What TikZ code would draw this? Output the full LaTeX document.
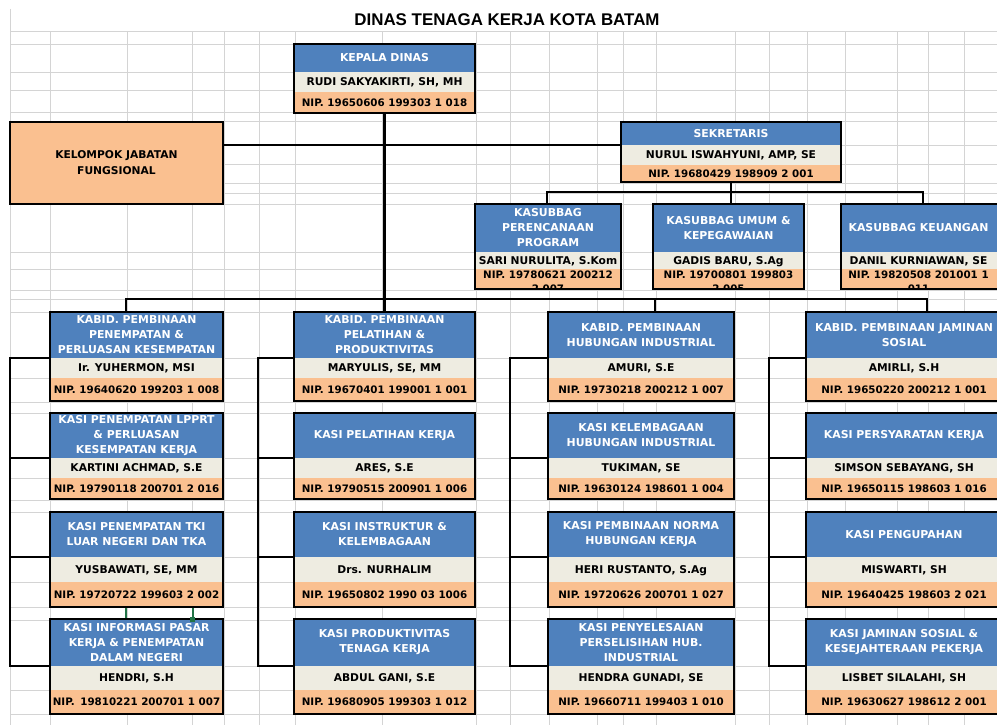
\documentclass[tikz,border=0pt]{standalone}
\usepackage{fontspec}
\newfontfamily\dvs{DejaVu Sans}
\newfontfamily\lib{Liberation Sans}
\usetikzlibrary{fit,calc}
\definecolor{hdrblue}{HTML}{4F81BD}
\definecolor{namebg}{HTML}{EEECE1}
\definecolor{nipbg}{HTML}{FAC090}
\definecolor{gridc}{HTML}{D4D4D4}
\definecolor{selg}{HTML}{217346}

\newcommand\obox[8]{%
  \fill[hdrblue] (#2,#4) rectangle (#3,#5);
  \fill[namebg] (#2,#5) rectangle (#3,#6);
  \fill[nipbg] (#2,#6) rectangle (#3,#7);
  \coordinate (#1-tl) at (#2,#4);
  \coordinate (#1-br) at (#3,#7);
  \coordinate (#1-tc) at ($(#8,#4)!.5!(#8,#5)$);
  \coordinate (#1-nc) at ($(#8,#5)!.5!(#8,#6)$);
  \coordinate (#1-pc) at ($(#8,#6)!.5!(#8,#7)$);
  \coordinate (#1-hl) at (#2,#5);
  \node[boxframe, fit=(#1-tl)(#1-br)] (#1) {};
}
\newcommand\otext[4]{%
  \node[ttl] (#1-title) at (#1-tc) {#2};
  \node[nmtxt] (#1-name) at (#1-nc) {#3};
  \node[niptxt] (#1-nip) at (#1-pc) {#4};
}
\newcommand\nipclip[6]{% name, x1, x2, y3, y4, text
  \begin{scope}
    \clip (#2+1.2,#4) rectangle (#3-1.2,#5-1.2);
    \node[niptwo] (#1-nip) at ($(#1-pc)+(0,2.5)$) {#6};
  \end{scope}
}

\begin{document}
\begin{tikzpicture}[x=1pt,y=-1pt,
  conn/.style={line width=2.1pt, black},
  boxframe/.style={draw=black, line width=2.4pt, inner sep=0pt},
  gridl/.style={gridc, line width=1pt},
  ttl/.style={font=\dvs\bfseries\fontsize{10.9}{15}\selectfont, text=white, align=center, inner sep=0pt},
  nmtxt/.style={font=\dvs\bfseries\fontsize{10.7}{12}\selectfont, inner sep=0pt, text depth=0pt},
  niptxt/.style={font=\dvs\bfseries\fontsize{10.3}{12}\selectfont, inner sep=0pt, text depth=0pt},
  niptwo/.style={font=\dvs\bfseries\fontsize{10.3}{14}\selectfont, inner sep=0pt, align=center},
]
\useasboundingbox (0,0) rectangle (997,725);
\clip (0,0) rectangle (997,725);
\fill[white] (0,0) rectangle (997,725);

% spreadsheet grid
\draw[gridl] (10,9) -- (10,725);
\foreach \gx in {50,127,192,224,259,295,382,476,510,549,597,623,656,735,769,807,845,897,928,964}
  \draw[gridl] (\gx,32) -- (\gx,725);
\foreach \gy in {32,45,73,91,113,122,145,164,183,193,204,252,269,290,299,312,358,378,402,413,458,478,500,512,557,582,607,620,666,690,714}
  \draw[gridl] (10,\gy) -- (997,\gy);

% title
\node[font=\lib\bfseries\fontsize{16.9}{20}\selectfont, inner sep=0pt] (title) at (507,20) {DINAS TENAGA KERJA KOTA BATAM};

% green cell selection (behind boxes)
\draw[selg, line width=1.5pt] (126,607) rectangle (193,619);

% boxes
\obox{kd}{294}{475}{44}{72}{92}{113}{384.5}
\otext{kd}{KEPALA DINAS}{RUDI SAKYAKIRTI, SH, MH}{NIP. 19650606 199303 1 018}

\obox{sek}{621}{841}{122}{145}{165}{182}{731}
\otext{sek}{SEKRETARIS}{NURUL ISWAHYUNI, AMP, SE}{NIP. 19680429 198909 2 001}

\coordinate (kjf-tl) at (10,122);
\coordinate (kjf-br) at (223,204);
\node[boxframe, fill=nipbg, fit=(kjf-tl)(kjf-br)] (kjf) {};
\node[font=\dvs\bfseries\fontsize{10.7}{16}\selectfont, inner sep=0pt, align=center] (kjf-text) at (kjf.center) {KELOMPOK JABATAN\\FUNGSIONAL};

\obox{ka}{475}{621}{204}{252}{269}{289}{548}
\otext{ka}{KASUBBAG\\PERENCANAAN\\PROGRAM}{SARI NURULITA, S.Kom}{}
\nipclip{ka}{475}{621}{269}{289}{NIP. 19780621 200212\\2 007}

\obox{kb}{653}{804}{204}{252}{269}{289}{728.5}
\otext{kb}{KASUBBAG UMUM \&\\KEPEGAWAIAN}{GADIS BARU, S.Ag}{}
\nipclip{kb}{653}{804}{269}{289}{NIP. 19700801 199803\\2 005}

\obox{kc}{841}{999}{204}{252}{269}{289}{918.5}
\otext{kc}{KASUBBAG KEUANGAN}{DANIL KURNIAWAN, SE}{}
\nipclip{kc}{841}{999}{269}{289}{NIP. 19820508 201001 1\\011}

% column 1
\obox{c1r1}{50}{223}{312}{358}{378}{401}{136.5}
\otext{c1r1}{KABID. PEMBINAAN\\PENEMPATAN \&\\PERLUASAN KESEMPATAN}{Ir. YUHERMON, MSI}{NIP. 19640620 199203 1 008}
\obox{c1r2}{50}{223}{413}{458}{478}{499}{136.5}
\otext{c1r2}{KASI PENEMPATAN LPPRT\\\& PERLUASAN\\KESEMPATAN KERJA}{KARTINI ACHMAD, S.E}{NIP. 19790118 200701 2 016}
\obox{c1r3}{50}{223}{512}{557}{582}{607}{136.5}
\otext{c1r3}{KASI PENEMPATAN TKI\\LUAR NEGERI DAN TKA}{YUSBAWATI, SE, MM}{NIP. 19720722 199603 2 002}
\obox{c1r4}{50}{223}{619}{666}{690}{714}{136.5}
\otext{c1r4}{KASI INFORMASI PASAR\\KERJA \& PENEMPATAN\\DALAM NEGERI}{HENDRI, S.H}{NIP.\hspace{5.5pt}19810221 200701 1 007}

% column 2
\obox{c2r1}{294}{475}{312}{358}{378}{401}{384.5}
\otext{c2r1}{KABID. PEMBINAAN\\PELATIHAN \&\\PRODUKTIVITAS}{MARYULIS, SE, MM}{NIP. 19670401 199001 1 001}
\obox{c2r2}{294}{475}{413}{458}{478}{499}{384.5}
\otext{c2r2}{KASI PELATIHAN KERJA}{ARES, S.E}{NIP. 19790515 200901 1 006}
\obox{c2r3}{294}{475}{512}{557}{582}{607}{384.5}
\otext{c2r3}{KASI INSTRUKTUR \&\\KELEMBAGAAN}{Drs. NURHALIM}{NIP. 19650802 1990 03 1006}
\obox{c2r4}{294}{475}{619}{666}{690}{714}{384.5}
\otext{c2r4}{KASI PRODUKTIVITAS\\TENAGA KERJA}{ABDUL GANI, S.E}{NIP. 19680905 199303 1 012}

% column 3
\obox{c3r1}{548}{734}{312}{358}{378}{401}{641}
\otext{c3r1}{KABID. PEMBINAAN\\HUBUNGAN INDUSTRIAL}{AMURI, S.E}{NIP. 19730218 200212 1 007}
\obox{c3r2}{548}{734}{413}{458}{478}{499}{641}
\otext{c3r2}{KASI KELEMBAGAAN\\HUBUNGAN INDUSTRIAL}{TUKIMAN, SE}{NIP. 19630124 198601 1 004}
\obox{c3r3}{548}{734}{512}{557}{582}{607}{641}
\otext{c3r3}{KASI PEMBINAAN NORMA\\HUBUNGAN KERJA}{HERI RUSTANTO, S.Ag}{NIP. 19720626 200701 1 027}
\obox{c3r4}{548}{734}{619}{666}{690}{714}{641}
\otext{c3r4}{KASI PENYELESAIAN\\PERSELISIHAN HUB.\\INDUSTRIAL}{HENDRA GUNADI, SE}{NIP. 19660711 199403 1 010}

% column 4
\obox{c4r1}{806}{1002}{312}{358}{378}{401}{904}
\otext{c4r1}{KABID. PEMBINAAN JAMINAN\\SOSIAL}{AMIRLI, S.H}{NIP. 19650220 200212 1 001}
\obox{c4r2}{806}{1002}{413}{458}{478}{499}{904}
\otext{c4r2}{KASI PERSYARATAN KERJA}{SIMSON SEBAYANG, SH}{NIP. 19650115 198603 1 016}
\obox{c4r3}{806}{1002}{512}{557}{582}{607}{904}
\otext{c4r3}{KASI PENGUPAHAN}{MISWARTI, SH}{NIP. 19640425 198603 2 021}
\obox{c4r4}{806}{1002}{619}{666}{690}{714}{904}
\otext{c4r4}{KASI JAMINAN SOSIAL \&\\KESEJAHTERAAN PEKERJA}{LISBET SILALAHI, SH}{NIP. 19630627 198612 2 001}

% selection handle
\fill[selg] (190,616.5) rectangle (195,621.5);

% connectors
\draw[conn] (kd.south) -- (c2r1.north);
\draw[conn] (kjf.east |- sek-hl) -- (sek-hl);

\coordinate (sbusL) at (547,192);
\coordinate (sbusR) at (923,192);
\draw[conn] (sek.south) -- (sek.south |- kb.north);
\draw[conn] (sbusL |- ka.north) -- (sbusL) -- (sbusR) -- (sbusR |- kc.north);

\coordinate (busL) at (126,299);
\coordinate (bus3) at (655,299);
\coordinate (busR) at (927,299);
\draw[conn] (busL |- c1r1.north) -- (busL) -- (busR) -- (busR |- c4r1.north);
\draw[conn] (bus3) -- (bus3 |- c3r1.north);

\coordinate (sp1) at (10,0);
\coordinate (sp2) at (258,0);
\coordinate (sp3) at (510,0);
\coordinate (sp4) at (769,0);
\foreach \c/\s in {c1/sp1,c2/sp2,c3/sp3,c4/sp4}{
  \draw[conn] (\c r1-hl) -- (\s |- \c r1-hl) -- (\s |- \c r4-hl) -- (\c r4-hl);
  \draw[conn] (\s |- \c r2-hl) -- (\c r2-hl);
  \draw[conn] (\s |- \c r3-hl) -- (\c r3-hl);
}
\end{tikzpicture}
\end{document}
